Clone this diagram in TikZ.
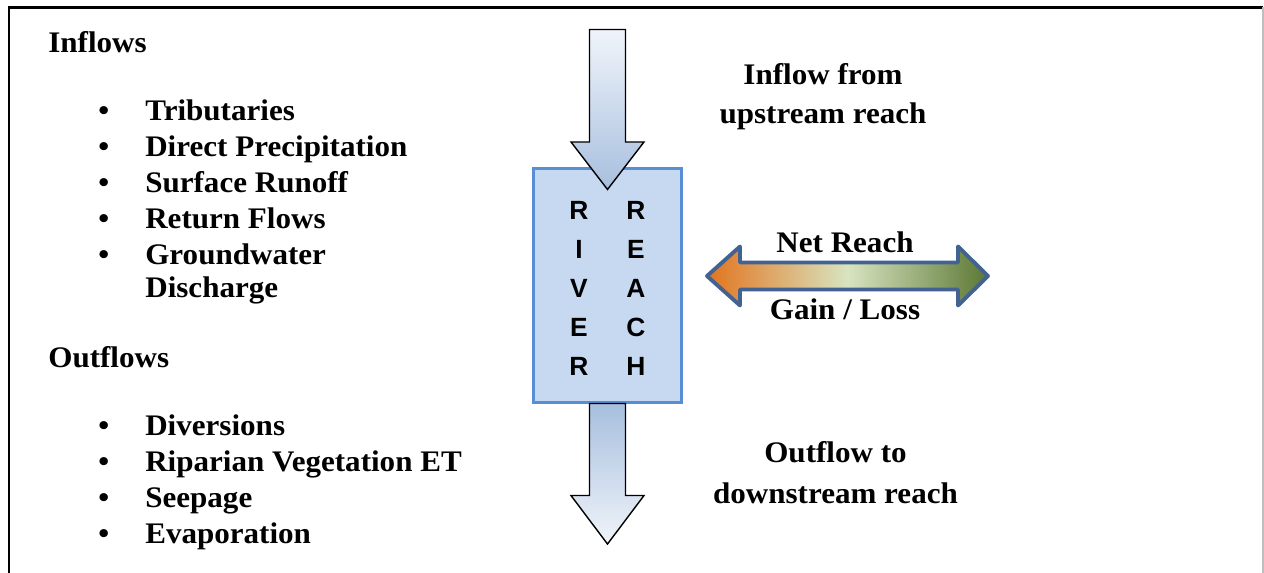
\documentclass[tikz,border=0pt]{standalone}
\usepackage{fontspec}
\setmainfont{Liberation Serif}[FakeStretch=1.04]
\newfontfamily\reachfont{Liberation Sans}
\usepackage{tikz}
\definecolor{boxfill}{RGB}{198,217,241}
\definecolor{boxline}{RGB}{88,142,213}
\definecolor{pipeblue}{RGB}{167,191,222}
\definecolor{pipepale}{RGB}{240,244,250}
\definecolor{gainorange}{RGB}{226,116,30}
\definecolor{midpale}{RGB}{216,228,192}
\definecolor{lossgreen}{RGB}{92,120,52}
\definecolor{netline}{RGB}{66,98,146}
\newcommand{\flowbullet}{\makebox[0.94cm][l]{\textbullet}}

\tikzset{
  flowtext/.style={font=\fontsize{17}{20}\selectfont\bfseries, inner sep=0pt},
  listitem/.style={flowtext, anchor=base west},
  sidetext/.style={flowtext, anchor=base},
  reachbox/.style={draw=boxline, fill=boxfill, line width=1.2pt, minimum width=2.96cm, minimum height=4.68cm, inner sep=0pt},
  reachletters/.style={font=\fontsize{15}{22.1}\selectfont\reachfont\bfseries, align=center, anchor=north, inner sep=0pt},
  pipe/.style={draw=black, line width=0.8pt, line join=miter},
}

\begin{document}
\begin{tikzpicture}[x=0.02cm, y=-0.02cm]
\useasboundingbox (0,0) rectangle (1264,573);
% frame (open at the bottom)
\draw[line width=1.6pt] (9,573) -- (9,7.5) -- (1263,7.5);
\draw[black!25, line width=0.6pt] (1263,7.5) -- (1263,573);

% inflows
\node[listitem] (inflows) at (48,52.7) {Inflows};
\node[listitem] (trib) at (98,120.7) {\flowbullet Tributaries};
\node[listitem] (precip) at (98,156.7) {\flowbullet Direct Precipitation};
\node[listitem] (runoff) at (98,192.7) {\flowbullet Surface Runoff};
\node[listitem] (retflow) at (98,228.7) {\flowbullet Return Flows};
\node[listitem] (gw) at (98,264.7) {\flowbullet Groundwater};
\node[listitem] (gwdis) at (145,298) {Discharge};

% outflows
\node[listitem] (outflows) at (48,368) {Outflows};
\node[listitem] (divert) at (98,436) {\flowbullet Diversions};
\node[listitem] (riparian) at (98,472) {\flowbullet Riparian Vegetation ET};
\node[listitem] (seep) at (98,508) {\flowbullet Seepage};
\node[listitem] (evap) at (98,544) {\flowbullet Evaporation};

% river reach box
\node[reachbox] (box) at (607.5,285.5) {};
\node[reachletters] (river) at (579,201.5) {R\\I\\V\\E\\R};
\node[reachletters] (reach) at (636,201.5) {R\\E\\A\\C\\H};

% inflow / outflow block arrows
\begin{scope}[shift={(box.north)}]
\path[pipe, top color=pipepale, bottom color=pipeblue] (-18,-138) -- (18,-138) -- (18,-25.5) -- (36.5,-25.5) -- (0,22) -- (-36.5,-25.5) -- (-18,-25.5) -- cycle;
\end{scope}
\begin{scope}[shift={(box.south)}]
\path[pipe, top color=pipeblue, bottom color=pipepale] (-18,0) -- (18,0) -- (18,92) -- (36.5,92) -- (0,140.5) -- (-36.5,92) -- (-18,92) -- cycle;
\end{scope}

\node[sidetext] (upin1) at (823,85) {Inflow from};
\node[sidetext] (upin2) at (823,124) {upstream reach};
\node[sidetext] (down1) at (835.5,463) {Outflow to};
\node[sidetext] (down2) at (835.5,504) {downstream reach};

% net gain / loss
\coordinate (netmid) at (847.5,276);
\begin{scope}[shift={(netmid)}]
\path[draw=netline, line width=2.2pt, line join=round, left color=gainorange, right color=lossgreen, middle color=midpale] (-140.5,0) -- (-107.5,-29.5) -- (-107.5,-13.5) -- (110.5,-13.5) -- (110.5,-29.5) -- (140.5,0) -- (110.5,29.5) -- (110.5,13.5) -- (-107.5,13.5) -- (-107.5,29.5) -- cycle;
\end{scope}
\node[sidetext] (net1) at (845,253) {Net Reach};
\node[sidetext] (net2) at (845,320) {Gain / Loss};
\end{tikzpicture}
\end{document}
